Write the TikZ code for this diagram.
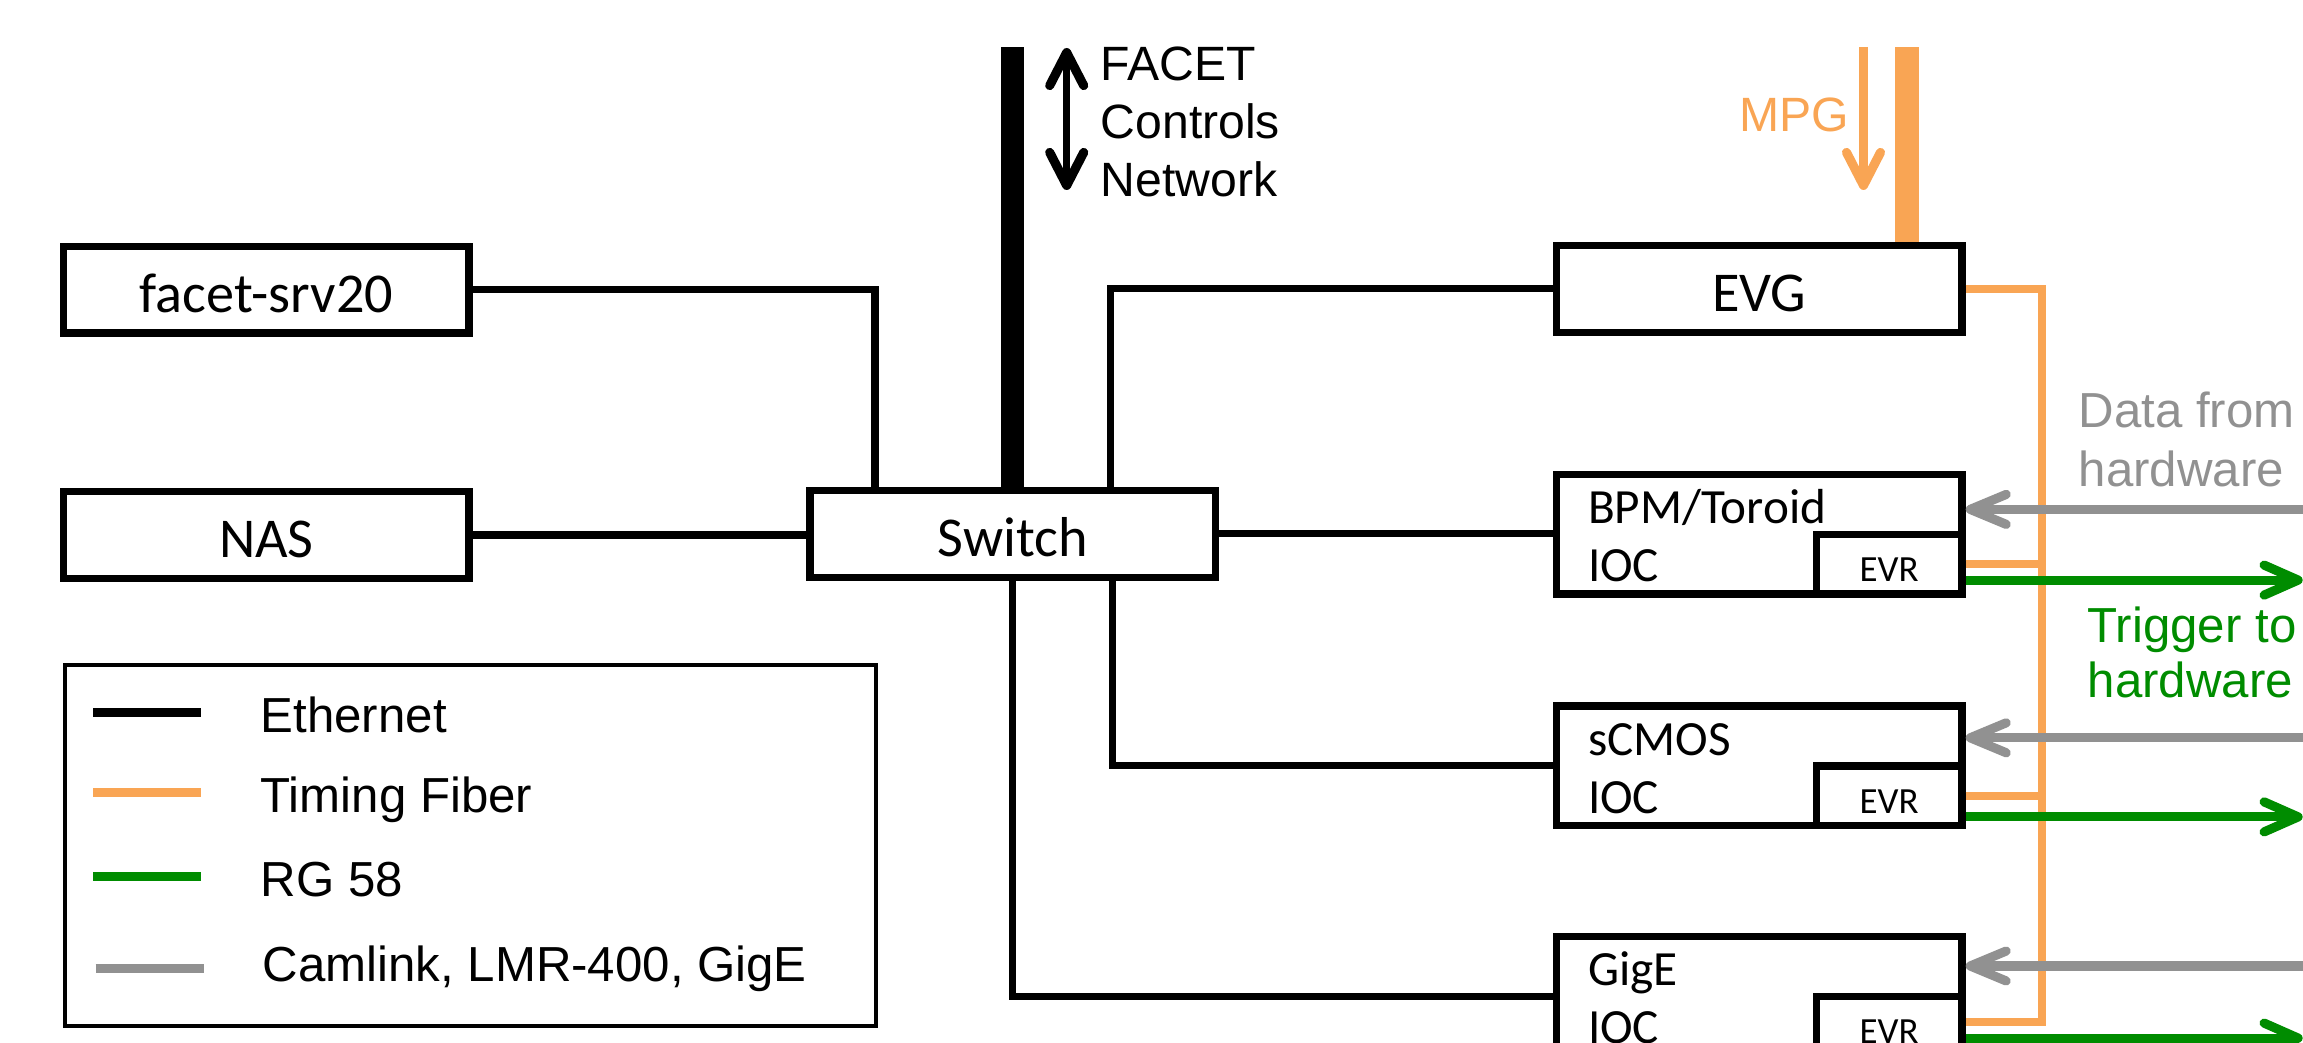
\documentclass[tikz,border=0pt]{standalone}
\usepackage{fontspec}
\setmainfont{Carlito}
\newfontfamily\arial{Liberation Sans}
\usetikzlibrary{arrows.meta}

\definecolor{fiber}{RGB}{249,165,84}
\definecolor{rgcoax}{RGB}{0,140,0}
\definecolor{camgray}{RGB}{145,145,145}

\tikzset{
  unit/.style={draw, line width=2.1pt, minimum width=40.55mm, minimum height=8.68mm,
    inner sep=0pt, text height=4.6mm, text depth=0pt,
    font=\fontsize{16pt}{19pt}\selectfont},
  ioc/.style={draw, line width=2.1pt, minimum height=11.95mm, text width=34.24mm,
    inner xsep=3.16mm, inner ysep=1mm, align=left, text height=3mm, text depth=5.1mm,
    font=\fontsize{14pt}{16.5pt}\selectfont},
  evr/.style={draw, line width=2.1pt, minimum width=14.56mm, minimum height=5.95mm,
    inner sep=0pt, text height=3.5mm, text depth=0pt, anchor=south east,
    font=\fontsize{10.5pt}{12pt}\selectfont},
  ethernet/.style={line width=2pt},
  timing/.style={fiber, line width=2.3pt},
  camlink/.style={camgray, line width=2.6pt, arrows={Straight Barb[length=3.6mm, width=3mm, round]-}},
  trigger/.style={rgcoax, line width=2.6pt, arrows={-Straight Barb[length=3.4mm, width=3mm, round]}},
  feedtip/.tip={Straight Barb[length=3.3mm, width=3.4mm, round, line width'=2.6pt]},
  note/.style={inner sep=0pt, align=left, font=\arial\fontsize{14pt}{17pt}\selectfont},
  key/.style={inner sep=0pt, anchor=base west, font=\arial\fontsize{14pt}{17pt}\selectfont},
  keyline/.style={line width=2.7pt},
}

\begin{document}
\begin{tikzpicture}[x=1mm, y=-1mm]
	\useasboundingbox (0,0) rectangle (230.3,104.3);
	
	% servers and the switch
	\node[unit] (facet) at (26.64,28.97) {facet-srv20};
	\node[unit] (nas) at (26.64,53.5) {NAS};
	\node[unit] (switch) at (101.29,53.39) {Switch};
	
	% timing master and the IOCs
	\node[unit] (evg) at (175.92,28.88) {EVG};
	\node[ioc] (bpm) at (175.92,53.43) {BPM/Toroid\\IOC};
	\node[ioc] (scmos) at (175.92,76.59) {sCMOS\\IOC};
	\node[ioc] (gige) at (175.92,99.64) {GigE\\IOC};
	\node[evr] (bpmevr) at (bpm.south east) {EVR};
	\node[evr] (scmosevr) at (scmos.south east) {EVR};
	\node[evr] (gigeevr) at (gige.south east) {EVR};
	
	\coordinate (trunk) at (204.2,102.17);
	\coordinate (netup) at (106.67,4.8);
	\coordinate (netdown) at (106.67,19.0);
	\coordinate (mpgin) at (186.35,4.7);
	\coordinate (mpgout) at (186.35,19.0);
	
	% ethernet
	\draw[ethernet] (facet.east) -| ([xshift=-13.79mm]switch.north);
	\draw[ethernet] (nas.east) -- (nas.east -| switch.west);
	\draw[ethernet] ([xshift=9.72mm]switch.north) |- (evg.west);
	\draw[ethernet] (switch.east) -- (switch.east -| bpm.west);
	\draw[ethernet] ([xshift=10mm]switch.south) |- (scmos.west);
	\draw[ethernet] (switch.south) |- (gige.west);
	\draw[line width=6.5pt] (switch.north) -- ++(0,-43.97);
	\draw[line width=1.9pt, arrows={feedtip-feedtip}] (netup) -- (netdown);
	\node[note, anchor=base west, font=\arial\fontsize{13.7pt}{16.6pt}\selectfont] (facetnet) at (110.0,19.7) {FACET\\Controls\\Network};
	
	% timing fiber
	\draw[fiber, line width=6.8pt] ([xshift=14.8mm]evg.north) -- ++(0,-19.47);
	\draw[fiber, line width=2.4pt, arrows={-feedtip}] (mpgin) -- (mpgout);
	\node[note, anchor=base east, text=fiber, font=\arial\fontsize{13.7pt}{16.6pt}\selectfont] (mpg) at (185.0,13.2) {MPG};
	\draw[timing] (evg.east) -| (trunk) -- (trunk -| gigeevr.east);
	\draw[timing] (bpmevr.east) -- (bpmevr.east -| trunk);
	\draw[timing] (scmosevr.east) -- (scmosevr.east -| trunk);
	
	% hardware side
	\draw[camlink] ([yshift=2.49mm]bpm.east) -- ++(33.7,0);
	\draw[camlink] ([yshift=2.81mm]scmos.east) -- ++(33.7,0);
	\draw[camlink] ([yshift=3.04mm]gige.east) -- ++(33.7,0);
	\draw[trigger] ([yshift=-1.58mm]bpmevr.east) -- ++(33.7,0);
	\draw[trigger] ([yshift=-2.1mm]scmosevr.east) -- ++(33.7,0);
	\draw[trigger] ([yshift=-1.17mm]gigeevr.east) -- ++(33.7,0);
	\node[note, anchor=base west, text=camgray] (datain) at (207.8,48.7) {Data from\\hardware};
	\node[note, anchor=base west, text=rgcoax, font=\arial\fontsize{14pt}{15.9pt}\selectfont] (trigout) at (208.7,69.8) {Trigger to\\hardware};
	
	% legend
	\node[draw, line width=1.1pt, minimum width=81.09mm, minimum height=36.1mm] (legend) at (47.02,84.52) {};
	\draw[keyline] (9.3,71.27) -- (20.1,71.27);
	\draw[keyline, fiber] (9.3,79.27) -- (20.1,79.27);
	\draw[keyline, rgcoax] (9.3,87.67) -- (20.1,87.67);
	\draw[keyline, camgray] (9.56,96.83) -- (20.4,96.83);
	\node[key] (keyeth) at (26.0,73.3) {Ethernet};
	\node[key] (keyfib) at (26.0,81.27) {Timing Fiber};
	\node[key] (keyrg) at (26.0,89.67) {RG 58};
	\node[key] (keycam) at (26.2,98.17) {Camlink, LMR-400, GigE};
	
\end{tikzpicture}
\end{document}
